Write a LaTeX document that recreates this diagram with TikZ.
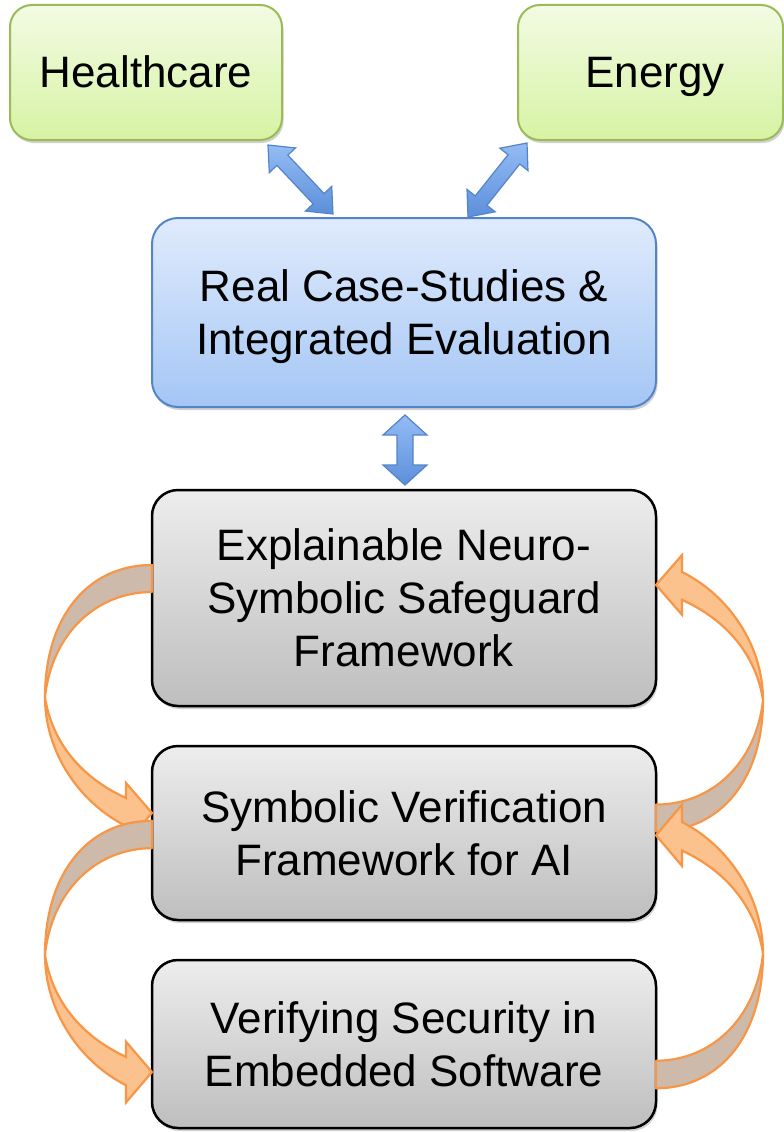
\documentclass[tikz,border=0pt]{standalone}
\usepackage{fontspec}
\setmainfont{Liberation Sans}
\usepackage{xcolor}
\usetikzlibrary{positioning, calc, shadows}
\definecolor{boxgreen}{RGB}{214, 243, 163}
\definecolor{boxgreenhi}{RGB}{243, 251, 228}
\definecolor{greenline}{RGB}{155, 187, 89}
\definecolor{boxblue}{RGB}{164, 198, 245}
\definecolor{boxbluehi}{RGB}{224, 235, 252}
\definecolor{blueline}{RGB}{84, 132, 200}
\definecolor{arrowblue}{RGB}{92, 143, 218}
\definecolor{arrowbluehi}{RGB}{148, 188, 245}
\definecolor{greyhi}{RGB}{237, 237, 237}
\definecolor{greylo}{RGB}{190, 190, 190}
\definecolor{mainorange}{RGB}{247, 150, 70}
\definecolor{orangefill}{RGB}{251, 194, 142}
\definecolor{orangeback}{RGB}{205, 186, 170}

% block double arrow: from, to, head length, head half width, shaft half width
\newcommand{\dblarrow}[5]{%
  \path ($(#1)!#3!(#2)$) coordinate (ha) ($(#2)!#3!(#1)$) coordinate (hb);
  \draw[bluearrow] (#1) -- ($(ha)!#4!90:(#2)$) -- ($(ha)!#5!90:(#2)$)
    -- ($(hb)!#5!-90:(#1)$) -- ($(hb)!#4!-90:(#1)$) -- (#2)
    -- ($(hb)!#4!90:(#1)$) -- ($(hb)!#5!90:(#1)$)
    -- ($(ha)!#5!-90:(#2)$) -- ($(ha)!#4!-90:(#2)$) -- cycle;
}
% twisted curved arrow leaving a box side: start point, scaling
\newcommand{\bentarrow}[2]{%
  \begin{scope}[shift={(#1)}, #2]
    \draw[bendback] (0,-13) .. controls (-65,-13) and (-107,40) .. (-107,119)
      .. controls (-100,55) and (-55,14) .. (0,14) -- cycle;
    \draw[bendfront] (-107,119) .. controls (-107,175) and (-72,225) .. (-26,248)
      -- (-26,265) -- (0,235) -- (-26,205) -- (-26,220)
      .. controls (-70,200) and (-100,165) .. (-107,119) -- cycle;
  \end{scope}
}

\begin{document}
\begin{tikzpicture}[x=1pt, y=-1pt, font=\fontsize{44}{53}\selectfont,
  box/.style={rounded corners=26pt, align=center, outer sep=0pt, inner sep=0pt,
    drop shadow={shadow xshift=1.5pt, shadow yshift=-3pt, opacity=.18, fill=black}},
  greenbox/.style={box, draw=greenline, line width=2pt, top color=boxgreenhi,
    bottom color=boxgreen, minimum height=135pt, rounded corners=22pt,
    text height=32pt, text depth=1pt},
  bluebox/.style={box, draw=blueline, line width=2pt, top color=boxbluehi,
    bottom color=boxblue, minimum width=504pt},
  greybox/.style={box, draw=black, line width=2.5pt, top color=greyhi,
    bottom color=greylo, minimum width=504pt},
  bluearrow/.style={draw=blueline, line width=1.2pt, top color=arrowbluehi,
    bottom color=arrowblue, line join=miter},
  bendback/.style={draw=mainorange, line width=2.2pt, fill=orangeback, line join=round},
  bendfront/.style={draw=mainorange, line width=2.2pt, fill=orangefill, line join=miter}]
  \useasboundingbox (0,0) rectangle (784,1132);

  \node[greenbox, minimum width=272pt] (health) at (146,72.5) {Healthcare};
  \node[greenbox, minimum width=265pt] (energy) at (650.5,72.5) {\hspace*{9pt}Energy};
  \node[bluebox, minimum height=189pt, text depth=0pt] (case) at (404,312.5)
    {Real Case-Studies \&\\Integrated Evaluation};
  \node[greybox, minimum height=216pt, below=83pt of case] (expl)
    {Explainable Neuro-\\Symbolic Safeguard\\Framework};
  \node[greybox, minimum height=174pt, below=40pt of expl] (sym)
    {Symbolic Verification\\Framework for AI};
  \node[greybox, minimum height=168pt, below=40pt of sym] (verif)
    {Verifying Security in\\Embedded Software};

  % blue links
  \coordinate (h1) at ($(health.south east)+(-14,5)$);
  \coordinate (c1) at ($(case.north)+(-71,-4)$);
  \coordinate (e1) at ($(energy.south west)+(9,3)$);
  \coordinate (c2) at ($(case.north)+(64,-1)$);
  \coordinate (c3) at ($(case.south)+(1,8)$);
  \coordinate (x1) at ($(expl.north)+(1,-5)$);
  \dblarrow{h1}{c1}{21pt}{18pt}{7.5pt}
  \dblarrow{e1}{c2}{21pt}{18pt}{7.5pt}
  \dblarrow{c3}{x1}{20pt}{22pt}{8pt}

  % orange loops
  \bentarrow{$(expl.west)+(0,-20)$}{}
  \bentarrow{$(sym.west)+(0,1)$}{yscale=1.013}
  \bentarrow{$(sym.east)+(0,-14.5)$}{xscale=-1, yscale=-0.994}
  \bentarrow{$(verif.east)+(0,31)$}{xscale=-1, yscale=-1.02}
\end{tikzpicture}
\end{document}
